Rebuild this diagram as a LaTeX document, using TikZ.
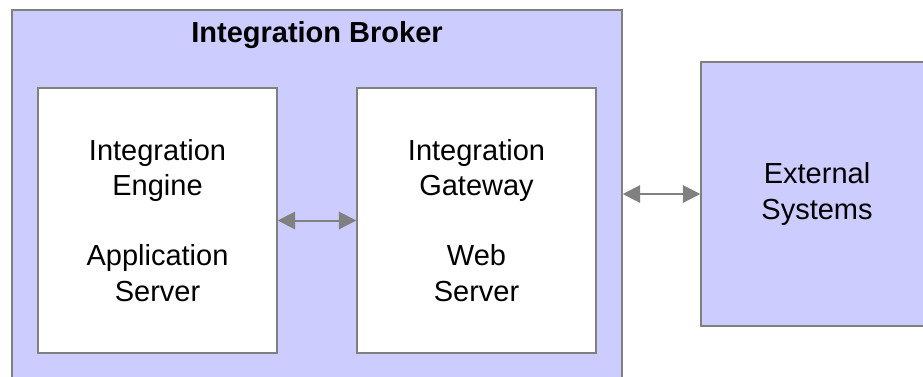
\documentclass[tikz,border=0pt]{standalone}
\usepackage{fontspec}
\setmainfont{Liberation Sans}
\usetikzlibrary{arrows.meta, positioning}

\definecolor{brokerfill}{RGB}{204,204,255}
\definecolor{edgegray}{RGB}{128,128,128}

\begin{document}
\begin{tikzpicture}[x=0.75pt, y=-0.75pt,
        font=\fontsize{21.75}{26.5}\selectfont,
        outerbox/.style={draw=edgegray, line width=1.1pt, fill=brokerfill, minimum width=457.5pt, minimum height=285pt, inner sep=0pt},
        innerbox/.style={draw=edgegray, line width=1.1pt, fill=white, minimum width=179.25pt, minimum height=198.75pt, align=center, inner sep=0pt},
        extbox/.style={draw=edgegray, line width=1.1pt, fill=brokerfill, minimum width=195pt, minimum height=198pt, inner sep=0pt},
        link/.style={{Triangle[length=13pt, width=13pt]}-{Triangle[length=13pt, width=13pt]}, edgegray, line width=1.5pt},
      ]
        \clip (0,0) rectangle (923,376);
        \fill[white] (0,0) rectangle (923,376);

        % Integration Broker
        \node[outerbox] (broker) at (317, 200) {};
        \node[font=\fontsize{21.75}{26.5}\selectfont\bfseries, anchor=base] (title) at (317, 42) {Integration Broker};

        % Engine and Gateway
        \node[innerbox] (engine) at (157.5, 220.5) {Integration\\Engine\\[26pt]Application\\Server};
        \node[innerbox] (gateway) at (476.5, 220.5) {Integration\\Gateway\\[26pt]Web\\Server};

        % External Systems (runs past the right edge)
        \node[extbox] (ext) at (831, 194) {};
        \node[align=center] (extlabel) at (817, 194) {External\\Systems};

        % Links
        \draw[link] (engine.east) -- (gateway.west);
        \draw[link] (ext.west -| broker.east) -- (ext.west);
      \end{tikzpicture}
\end{document}
